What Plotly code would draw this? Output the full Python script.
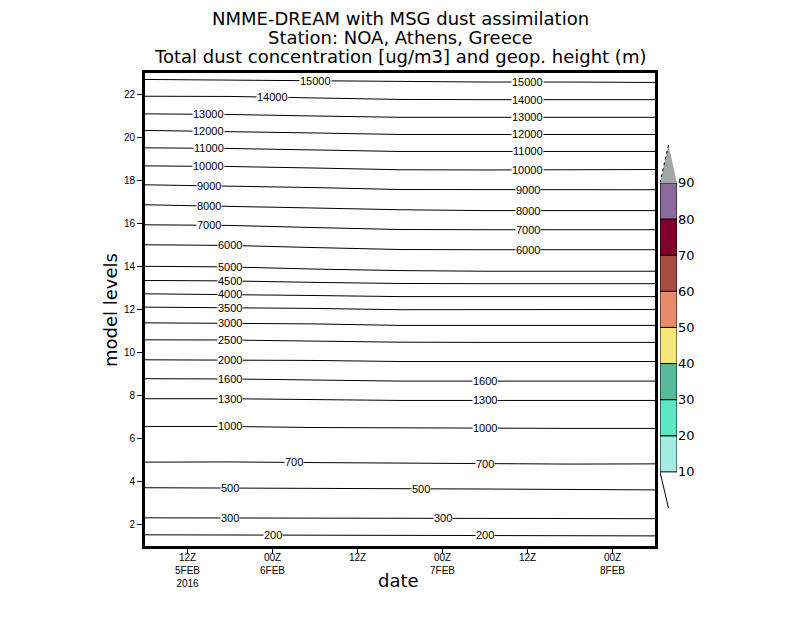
# %%
import numpy as np
import pandas as pd
import plotly.graph_objects as go

# %%
# geopotential height isolines: model level where height == value, every 12 h
times = pd.date_range("2016-02-05 06:00", "2016-02-08 06:00", freq="12h")
heights = [15000, 14000, 13000, 12000, 11000, 10000, 9000, 8000, 7000, 6000,
           5000, 4500, 4000, 3500, 3000, 2500, 2000, 1600, 1300, 1000,
           700, 500, 300, 200]
iso_levels = [
    [22.70, 22.67, 22.65, 22.60, 22.58, 22.58, 22.56],
    [21.92, 21.91, 21.84, 21.77, 21.76, 21.76, 21.76],
    [21.10, 21.07, 21.00, 20.94, 20.94, 20.94, 20.94],
    [20.33, 20.28, 20.21, 20.14, 20.14, 20.16, 20.14],
    [19.52, 19.49, 19.42, 19.35, 19.35, 19.35, 19.35],
    [18.68, 18.65, 18.58, 18.50, 18.49, 18.49, 18.51],
    [17.80, 17.74, 17.67, 17.58, 17.57, 17.57, 17.57],
    [16.87, 16.81, 16.72, 16.64, 16.60, 16.60, 16.60],
    [15.94, 15.91, 15.81, 15.72, 15.71, 15.71, 15.71],
    [15.01, 14.98, 14.88, 14.79, 14.78, 14.78, 14.78],
    [14.01, 13.98, 13.88, 13.81, 13.78, 13.78, 13.78],
    [13.35, 13.33, 13.26, 13.21, 13.20, 13.20, 13.20],
    [12.73, 12.70, 12.65, 12.60, 12.60, 12.60, 12.60],
    [12.11, 12.09, 12.05, 11.99, 11.99, 11.99, 12.00],
    [11.38, 11.37, 11.33, 11.26, 11.26, 11.26, 11.26],
    [10.59, 10.58, 10.53, 10.48, 10.47, 10.47, 10.47],
    [9.66, 9.65, 9.63, 9.58, 9.58, 9.58, 9.58],
    [8.78, 8.77, 8.72, 8.67, 8.67, 8.67, 8.67],
    [7.85, 7.85, 7.81, 7.77, 7.77, 7.77, 7.77],
    [6.56, 6.56, 6.51, 6.49, 6.47, 6.47, 6.47],
    [4.90, 4.91, 4.88, 4.86, 4.82, 4.81, 4.82],
    [3.71, 3.70, 3.70, 3.67, 3.65, 3.63, 3.61],
    [2.31, 2.30, 2.30, 2.30, 2.28, 2.28, 2.27],
    [1.52, 1.51, 1.51, 1.51, 1.49, 1.49, 1.47],
]
# hours after the first time where each isoline carries a label
label_hours = [
    [24, 54], [18, 54], [9, 54], [9, 54], [9, 54], [9, 54], [9, 54], [9, 54],
    [9, 54], [12, 54], [12], [12], [12], [12], [12], [12], [12],
    [12, 48], [12, 48], [12, 48], [21, 48], [12, 39], [12, 42], [18, 48],
]

tick_times = pd.date_range("2016-02-05 12:00", "2016-02-08 00:00", freq="12h")
tick_text = ["12Z<br>5FEB<br>2016", "00Z<br>6FEB", "12Z",
             "00Z<br>7FEB", "12Z", "00Z<br>8FEB"]

title_lines = ["NMME-DREAM with MSG dust assimilation",
               "Station: NOA, Athens, Greece",
               "Total dust concentration [ug/m3] and geop. height (m)"]

# dust concentration colour key
dust_levels = [10, 20, 30, 40, 50, 60, 70, 80, 90]
dust_colors = ["#a5ede3", "#5ee6c0", "#55bb9b", "#f5e67a",
               "#e88b6a", "#a84b42", "#80002e", "#8c6a9c"]
above_color = "#a0a8a5"

# %%
fig = go.Figure()
hours = (times - times[0]) / pd.Timedelta(hours=1)

for h, lev, lh in zip(heights, iso_levels, label_hours):
    fig.add_trace(go.Scatter(x=times, y=lev, mode="lines",
                             line=dict(color="black", width=1),
                             showlegend=False, hoverinfo="skip"))
    for hh in lh:
        fig.add_annotation(x=times[0] + pd.Timedelta(hours=hh),
                           y=np.interp(hh, hours, lev), text=str(h),
                           showarrow=False, bgcolor="white", borderpad=0,
                           font=dict(family="Liberation Sans", size=11,
                                     color="black"))

# colour key as stacked boxes on its own axes
fig.add_trace(go.Bar(x=[0.5] * 8, y=np.diff(dust_levels), base=dust_levels[:-1],
                     width=1, marker=dict(color=dust_colors,
                                          line=dict(color="black", width=1)),
                     xaxis="x2", yaxis="y2", showlegend=False, hoverinfo="skip"))
fig.add_trace(go.Scatter(x=[0, 0.5, 1, 0], y=[90, 100.5, 90, 90], fill="toself",
                         fillcolor=above_color, mode="none",
                         xaxis="x2", yaxis="y2", showlegend=False, hoverinfo="skip"))
fig.add_trace(go.Scatter(x=[0, 0.5], y=[90, 100.5], mode="lines",
                         line=dict(color="black", width=1, dash="dot"),
                         xaxis="x2", yaxis="y2", showlegend=False, hoverinfo="skip",
                         cliponaxis=False))
fig.add_trace(go.Scatter(x=[0, 0.5], y=[10, 0], mode="lines",
                         line=dict(color="black", width=1),
                         xaxis="x2", yaxis="y2", showlegend=False, hoverinfo="skip",
                         cliponaxis=False))

axis_font = dict(family="Liberation Sans", size=10, color="black")
fig.update_layout(
    width=800, height=618,
    margin=dict(l=137, r=108, t=65, b=80),
    paper_bgcolor="white", plot_bgcolor="white",
    xaxis=dict(domain=[0, 510 / 555], type="date",
               range=[times[0], times[-1]],
               tickvals=tick_times, ticktext=tick_text, tickfont=axis_font,
               ticks="outside", ticklen=4, tickcolor="black",
               ticklabelstandoff=-4,
               showline=True, linecolor="black", linewidth=3, mirror=True,
               showgrid=False, zeroline=False),
    yaxis=dict(range=[1, 23], tickvals=list(range(2, 23, 2)), tickfont=axis_font,
               ticks="outside", ticklen=5, tickcolor="black",
               showline=True, linecolor="black", linewidth=3, mirror=True,
               showgrid=False, zeroline=False),
    xaxis2=dict(domain=[515 / 555, 532 / 555], range=[0, 1], anchor="y2",
                visible=False),
    yaxis2=dict(domain=[38 / 473, 401 / 473], range=[0, 100.5], anchor="x2",
                side="right", tickvals=dust_levels, ticks="",
                tickfont=dict(family="DejaVu Sans", size=13, color="black"),
                showline=False, showgrid=False, zeroline=False),
)

title_font = dict(family="DejaVu Sans", size=18, color="black")
for i, line in enumerate(title_lines):
    fig.add_annotation(text=line, x=255 / 555, y=(528 - 19 * i) / 473,
                       xref="paper", yref="paper", xanchor="center",
                       yanchor="middle", showarrow=False, font=title_font)

fig.add_annotation(text="date", x=253 / 555, y=-34 / 473, xref="paper", yref="paper",
                   xanchor="center", yanchor="middle", showarrow=False,
                   font=dict(family="DejaVu Sans", size=18, color="black"))
fig.add_annotation(text="model levels", x=-35 / 555, y=236 / 473, xref="paper",
                   yref="paper", xanchor="center", yanchor="middle",
                   showarrow=False, textangle=-90,
                   font=dict(family="DejaVu Sans", size=18, color="black"))

fig.write_html("out.html")
